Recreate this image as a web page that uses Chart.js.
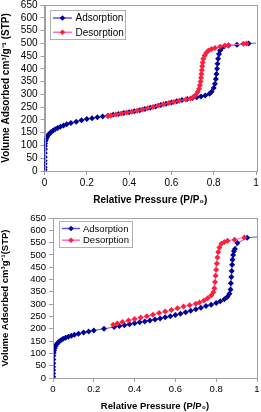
<!DOCTYPE html>
<html>
<head>
<meta charset="utf-8">
<script src="https://cdn.jsdelivr.net/npm/chart.js@4/dist/chart.umd.min.js"></script>
<style>
  body { margin: 0; background: #fff; }
  .wrap { position: absolute; left: 0; width: 261px; height: 206px; }
</style>
</head>
<body>
<div class="wrap" style="top:0"><canvas id="top" width="261" height="206"></canvas></div>
<div class="wrap" style="top:206px"><canvas id="bottom" width="261" height="206"></canvas></div>
<script>
// sample 1 (upper plot)
const ads1P = [0.001, 0.001, 0.001, 0.001, 0.0015, 0.0015, 0.002, 0.002, 0.003, 0.005, 0.008, 0.012, 0.017, 0.023, 0.03, 0.04, 0.05, 0.062, 0.075, 0.09, 0.105, 0.125, 0.15, 0.175, 0.2, 0.225, 0.25, 0.275, 0.3, 0.325, 0.35, 0.375, 0.4, 0.425, 0.45, 0.475, 0.5, 0.525, 0.55, 0.575, 0.6, 0.625, 0.65, 0.675, 0.7, 0.72, 0.74, 0.76, 0.78, 0.79, 0.8, 0.806, 0.81, 0.813, 0.816, 0.818, 0.821, 0.825, 0.83, 0.838, 0.85, 0.87, 0.91, 0.965, 1.04];
const ads1V = [5, 15, 28, 40, 55, 70, 85, 98, 108, 118, 126, 133, 140, 146, 152, 158, 163, 168, 173, 178, 183, 188, 193, 199, 204, 207, 210, 213, 216, 220, 223, 227, 230, 234, 238, 243, 248, 253, 258, 263, 268, 273, 278, 282, 286, 289, 292, 296, 302, 310, 325, 342, 360, 380, 400, 420, 440, 458, 472, 482, 488, 491, 494, 499, 503];
const des1P = [0.955, 0.94, 0.87, 0.853, 0.83, 0.806, 0.79, 0.775, 0.765, 0.757, 0.751, 0.748, 0.746, 0.744, 0.742, 0.74, 0.738, 0.735, 0.731, 0.725, 0.715, 0.702, 0.69, 0.668, 0.637, 0.612, 0.588, 0.563, 0.538, 0.513, 0.488, 0.463, 0.438, 0.413, 0.388, 0.363, 0.338, 0.313, 0.3];
const des1V = [499, 498, 492, 491, 487, 482, 478, 472, 463, 452, 440, 425, 410, 395, 380, 365, 350, 336, 322, 310, 298, 289, 284, 280, 275, 270, 266, 261, 256, 251, 246, 241, 236, 232, 229, 225, 221, 217, 215];

// sample 2 (lower plot)
const ads2P = [0.001, 0.001, 0.001, 0.001, 0.0015, 0.0015, 0.002, 0.003, 0.005, 0.008, 0.012, 0.017, 0.023, 0.03, 0.04, 0.05, 0.062, 0.075, 0.09, 0.105, 0.125, 0.15, 0.175, 0.2, 0.25, 0.3, 0.325, 0.35, 0.375, 0.4, 0.425, 0.45, 0.475, 0.5, 0.525, 0.55, 0.575, 0.6, 0.625, 0.65, 0.675, 0.7, 0.725, 0.75, 0.775, 0.8, 0.82, 0.84, 0.855, 0.865, 0.87, 0.872, 0.874, 0.876, 0.878, 0.88, 0.883, 0.887, 0.892, 0.904, 0.952, 1.04];
const ads2V = [5, 18, 32, 46, 60, 75, 90, 102, 112, 121, 129, 136, 142, 148, 154, 159, 164, 168, 172, 176, 180, 185, 189, 193, 200, 207, 211, 214, 218, 222, 226, 230, 234, 238, 242, 247, 251, 256, 261, 267, 273, 279, 285, 292, 298, 305, 312, 320, 330, 342, 360, 385, 410, 435, 460, 480, 500, 515, 524, 548, 570, 576];
const des2P = [0.938, 0.89, 0.856, 0.84, 0.825, 0.816, 0.81, 0.806, 0.803, 0.8, 0.797, 0.794, 0.791, 0.786, 0.775, 0.758, 0.74, 0.718, 0.7, 0.67, 0.64, 0.61, 0.58, 0.55, 0.52, 0.49, 0.46, 0.43, 0.4, 0.37, 0.34, 0.315, 0.295];
const des2V = [571, 562, 558, 552, 545, 530, 512, 490, 465, 440, 415, 390, 365, 348, 335, 324, 315, 307, 302, 296, 290, 283, 276, 270, 264, 257, 251, 246, 240, 234, 227, 221, 216];

const seriesNames = ["Adsorption", "Desorption"];

const pts = (xs, ys) => xs.map((x, i) => ({ x: x, y: ys[i] }));

const frame = {
  id: "frame",
  afterDraw(chart) {
    const a = chart.chartArea, ctx = chart.ctx;
    ctx.save();
    ctx.strokeStyle = "#a0a0a0";
    ctx.lineWidth = 1;
    ctx.strokeRect(Math.round(a.left) + 0.5, Math.round(a.top) + 0.5,
      Math.round(a.right - a.left), Math.round(a.bottom - a.top));
    ctx.restore();
  },
};

const boxLegend = {
  id: "boxLegend",
  afterDraw(chart, args, o) {
    const ctx = chart.ctx;
    ctx.save();
    ctx.fillStyle = "#fff";
    ctx.strokeStyle = "#b0b0b0";
    ctx.lineWidth = 1;
    ctx.fillRect(o.x, o.y, o.w, o.h);
    ctx.strokeRect(o.x + 0.5, o.y + 0.5, o.w, o.h);
    chart.data.datasets.forEach((ds, i) => {
      const cy = o.y + o.row0 + i * o.gap;
      ctx.strokeStyle = ds.borderColor;
      ctx.lineWidth = 1.5;
      ctx.beginPath();
      ctx.moveTo(o.x + o.l0, cy);
      ctx.lineTo(o.x + o.l1, cy);
      ctx.stroke();
      const mx = o.x + (o.l0 + o.l1) / 2, r = 2.8;
      ctx.fillStyle = ds.pointBackgroundColor;
      ctx.beginPath();
      ctx.moveTo(mx, cy - r); ctx.lineTo(mx + r, cy); ctx.lineTo(mx, cy + r); ctx.lineTo(mx - r, cy);
      ctx.closePath();
      ctx.fill();
      ctx.fillStyle = "#000";
      ctx.font = o.font;
      ctx.textBaseline = "middle";
      ctx.fillText(ds.label, o.x + o.tx, cy + 0.5);
    });
    ctx.restore();
  },
};

const makeChart = (id, aP, aV, dP, dV, L) => {
  return new Chart(document.getElementById(id), {
    type: "scatter",
    data: {
      datasets: [
        {
          label: seriesNames[0],
          data: pts(aP, aV),
          order: 1,
          showLine: true,
          borderColor: "#5a5ae6",
          borderWidth: 1,
          pointStyle: "rectRot",
          pointRadius: 3,
          pointBackgroundColor: "#00009c",
          pointBorderColor: "#00009c",
          pointBorderWidth: 0,
        },
        {
          label: seriesNames[1],
          data: pts(dP, dV),
          order: 0,
          showLine: true,
          borderColor: "#ff6ad2",
          borderWidth: 1,
          pointStyle: "rectRot",
          pointRadius: 3,
          pointBackgroundColor: "#ff1f3c",
          pointBorderColor: "#ff1f3c",
          pointBorderWidth: 0,
        },
      ],
    },
    options: {
      responsive: false,
      animation: false,
      devicePixelRatio: 1,
      layout: { padding: { left: 0, right: L.right, top: L.top, bottom: 0 } },
      plugins: { legend: { display: false }, tooltip: { enabled: false }, boxLegend: L.legend },
      scales: {
        x: {
          type: "linear",
          min: 0,
          max: 1,
          ticks: {
            stepSize: 0.2, autoSkip: false, maxRotation: 0, color: "#000", padding: 2,
            font: { family: "Liberation Sans", size: L.tick },
            callback: (v) => String(+v.toFixed(1)),
          },
          grid: { drawOnChartArea: false, tickLength: 4, color: "#a0a0a0" },
          border: { color: "#a0a0a0" },
          title: {
            display: true,
            text: "Relative Pressure (P/P\u2080)",
            color: "#000",
            font: { family: "Liberation Sans", size: L.title, weight: "bold" },
            padding: { top: 0, bottom: 0 },
          },
          afterFit: (s) => { s.height = L.xh; s.paddingLeft = 0; s.paddingRight = 0; },
        },
        y: {
          min: 0,
          max: 650,
          ticks: { stepSize: 50, autoSkip: false, color: "#000", font: { family: "Liberation Sans", size: L.tick }, padding: 3 },
          grid: { drawOnChartArea: false, tickLength: 4, color: "#a0a0a0" },
          border: { color: "#a0a0a0" },
          title: {
            display: true,
            text: L.ytitle,
            color: "#000",
            font: { family: "Liberation Sans", size: L.title, weight: "bold" },
            padding: { top: 0, bottom: L.ytp },
          },
          afterFit: (s) => { s.width = L.yw; s.paddingTop = 0; s.paddingBottom = 0; },
        },
      },
    },
    plugins: [frame, boxLegend],
  });
};

makeChart("top", ads1P, ads1V, des1P, des1V, {
  right: 5, top: 5, xh: 35, yw: 44.5, tick: 10, title: 10, ytp: 0,
  ytitle: "Volume Adsorbed cm\u00b3/g\u207b\u00b9 (STP)",
  legend: { x: 50, y: 10, w: 75, h: 29, row0: 8, gap: 14.3, l0: 3, l1: 22, tx: 25.5, font: "10px 'Liberation Sans'" },
});

makeChart("bottom", ads2P, ads2V, des2P, des2V, {
  right: 3, top: 12, xh: 34, yw: 53, tick: 9.5, title: 9.5, ytp: 4,
  ytitle: "Volume Adsorbed cm\u00b3g\u207b\u00b9(STP)",
  legend: { x: 59, y: 15, w: 73, h: 26, row0: 7.5, gap: 11.7, l0: 3, l1: 21, tx: 24, font: "9.5px 'Liberation Sans'" },
});
</script>
</body>
</html>
